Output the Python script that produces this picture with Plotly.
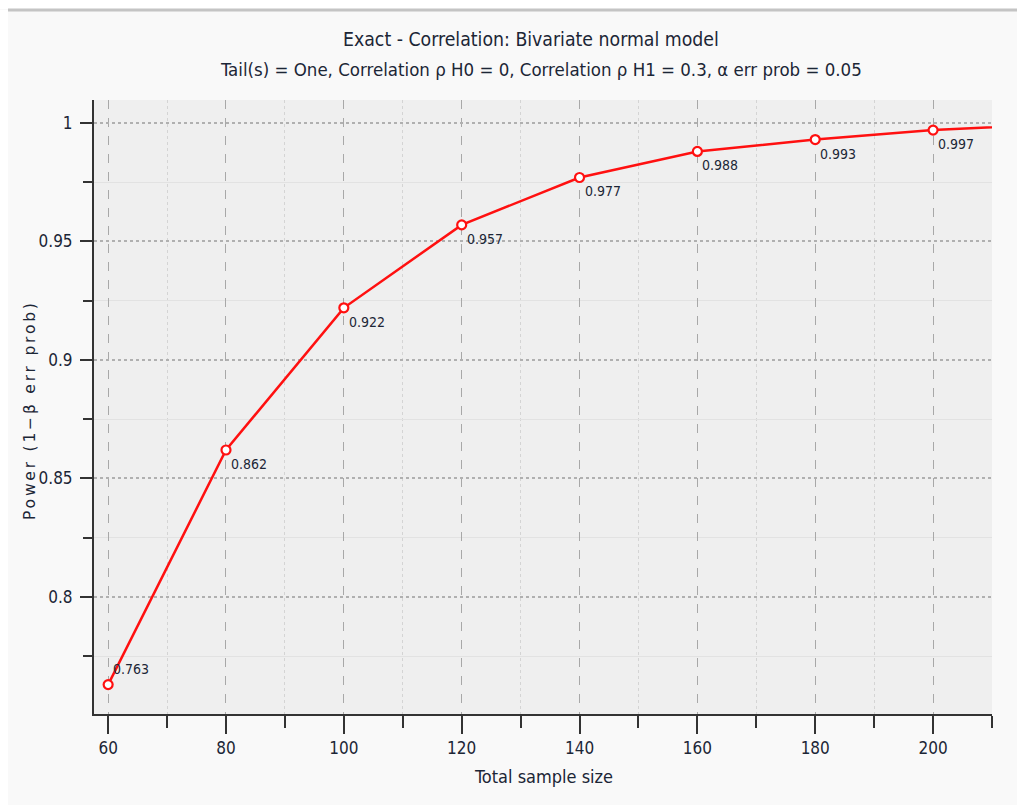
import plotly.graph_objects as go

# ---- data ----
sample_sizes = [60, 80, 100, 120, 140, 160, 180, 200]
power_values = [0.763, 0.862, 0.922, 0.957, 0.977, 0.988, 0.993, 0.997]
power_labels = ["0.763", "0.862", "0.922", "0.957", "0.977", "0.988", "0.993", "0.997"]
# curve continues beyond the last marked point (clipped by the axis range)
extra_x = [220]
extra_y = [0.9995]

title_main = "Exact - Correlation: Bivariate normal model"
title_sub = "Tail(s) = One, Correlation ρ H0 = 0, Correlation ρ H1 = 0.3, α err prob = 0.05"
x_title = "Total sample size"
y_title = "Power (1−β err prob)"

FONT = "DejaVu Sans Condensed, Liberation Sans Narrow, Liberation Sans, sans-serif"
TXT = "#1c2636"
RED = "#ff1010"

W, H = 1017, 805
L, R, T, B = 94, 25, 100, 91
pw, ph = W - L - R, H - T - B

def px_x(p):
    return (p - L) / pw

def px_y(p):
    return (H - B - p) / ph

fig = go.Figure()

fig.add_trace(go.Scatter(
    x=sample_sizes + extra_x, y=power_values + extra_y,
    mode="lines", line=dict(color=RED, width=2.5),
    hoverinfo="skip", showlegend=False,
))
fig.add_trace(go.Scatter(
    x=sample_sizes, y=power_values, mode="markers",
    marker=dict(symbol="circle", size=9, color="white",
                line=dict(color=RED, width=2.2)),
    showlegend=False, cliponaxis=False,
))

annotations = []
for i, (xv, yv, lab) in enumerate(zip(sample_sizes, power_values, power_labels)):
    annotations.append(dict(
        x=xv, y=yv, xref="x", yref="y", text=lab, showarrow=False,
        xanchor="left", yanchor="middle",
        xshift=3, yshift=(16 if i == 0 else -14),
        font=dict(family=FONT, size=14, color=TXT),
    ))

annotations += [
    dict(text=title_main, x=px_x(531), y=px_y(40), xref="paper", yref="paper",
         showarrow=False, xanchor="center", yanchor="middle",
         font=dict(family=FONT, size=19.3, color=TXT)),
    dict(text=title_sub, x=px_x(541), y=px_y(70), xref="paper", yref="paper",
         showarrow=False, xanchor="center", yanchor="middle",
         font=dict(family=FONT, size=18.5, color=TXT)),
    dict(text=x_title, x=px_x(543), y=px_y(776), xref="paper", yref="paper",
         showarrow=False, xanchor="center", yanchor="middle",
         font=dict(family=FONT, size=18, color=TXT)),
    dict(text='<span style="letter-spacing:2.8px">' + y_title + '</span>',
         x=px_x(30), y=px_y(410), xref="paper", yref="paper",
         showarrow=False, xanchor="center", yanchor="middle", textangle=-90,
         font=dict(family="DejaVu Sans, sans-serif", size=15.5, color=TXT)),
]

shapes = [
    dict(type="rect", xref="paper", yref="paper",
         x0=px_x(0), x1=px_x(W), y0=px_y(0), y1=px_y(9),
         fillcolor="white", line=dict(width=0), layer="below"),
    dict(type="line", xref="paper", yref="paper",
         x0=px_x(8), x1=px_x(W), y0=px_y(10), y1=px_y(10),
         line=dict(color="#c4c4c4", width=3)),
    dict(type="rect", xref="paper", yref="paper",
         x0=px_x(0), x1=px_x(8), y0=px_y(10), y1=px_y(H),
         fillcolor="white", line=dict(width=0), layer="below"),
]

fig.update_layout(
    width=W, height=H,
    margin=dict(l=L, r=R, t=T, b=B),
    paper_bgcolor="#f9f9f9",
    plot_bgcolor="#efefef",
    annotations=annotations,
    shapes=shapes,
    showlegend=False,
    xaxis=dict(
        range=[57.6, 210], tickmode="linear", tick0=60, dtick=20,
        showgrid=True, gridcolor="#a8a8a8", griddash="dash", gridwidth=1,
        ticks="outside", ticklen=18, tickwidth=2, tickcolor="#333333",
        showline=True, linecolor="#333333", linewidth=2,
        zeroline=False,
        tickfont=dict(family=FONT, size=17, color=TXT),
        minor=dict(tick0=60, dtick=10, ticks="outside", ticklen=12,
                   tickwidth=2, tickcolor="#333333", showgrid=True,
                   gridcolor="#d4d4d4", griddash="dot", gridwidth=1),
    ),
    yaxis=dict(
        range=[0.7506, 1.0097], tickmode="linear", tick0=0.8, dtick=0.05,
        showgrid=True, gridcolor="#b0b0b0", griddash="dot", gridwidth=1.5,
        ticks="outside", ticklen=12, tickwidth=2, tickcolor="#333333",
        showline=True, linecolor="#333333", linewidth=2,
        zeroline=False, ticklabelstandoff=4,
        tickfont=dict(family=FONT, size=17, color=TXT),
        minor=dict(tick0=0.775, dtick=0.05, ticks="outside", ticklen=9,
                   tickwidth=2, tickcolor="#333333", showgrid=True,
                   gridcolor="#e2e2e2", griddash="solid", gridwidth=1),
    ),
)

fig.write_html("out.html")
